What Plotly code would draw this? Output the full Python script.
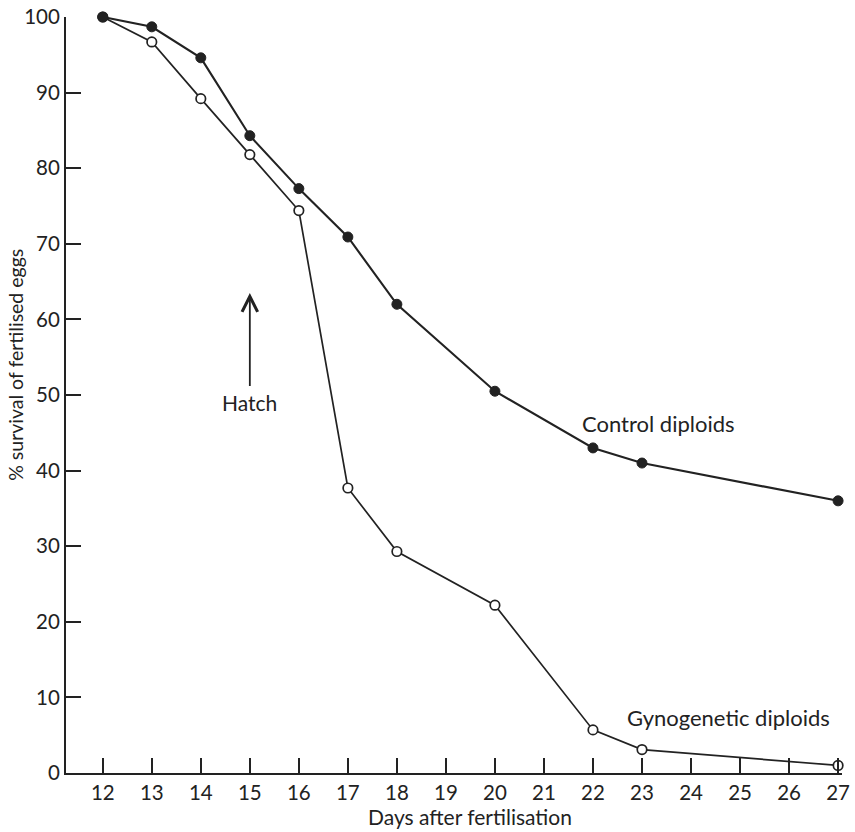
import plotly.graph_objects as go

days_control = [12, 13, 14, 15, 16, 17, 18, 20, 22, 23, 27]
control = [100, 98.7, 94.6, 84.3, 77.3, 70.9, 62.0, 50.5, 43.0, 41.0, 36.0]
days_gyno = [12, 13, 14, 15, 16, 17, 18, 20, 22, 23, 27]
gyno = [100, 96.7, 89.2, 81.8, 74.4, 37.7, 29.3, 22.2, 5.7, 3.1, 1.0]
x_ticks = list(range(12, 28))
y_ticks = list(range(0, 101, 10))

FONT = "Lato"
INK = "#222222"

fig = go.Figure()
fig.add_trace(go.Scatter(
    x=days_gyno, y=gyno, mode="lines+markers", cliponaxis=False,
    line=dict(color=INK, width=1.7),
    marker=dict(symbol="circle", size=9.5, color="white", line=dict(color=INK, width=1.7)),
    showlegend=False))
fig.add_trace(go.Scatter(
    x=days_control, y=control, mode="lines+markers", cliponaxis=False,
    line=dict(color=INK, width=2.1),
    marker=dict(symbol="circle", size=10, color=INK, line=dict(color=INK, width=1)),
    showlegend=False))

fig.add_annotation(x=15, y=63.5, ax=15, ay=51.0, axref="x", ayref="y", xref="x", yref="y",
                   text="", showarrow=True, arrowhead=5, arrowsize=1.7, arrowwidth=1.8,
                   arrowcolor=INK)
fig.add_annotation(x=15, y=49.0, xref="x", yref="y", text="Hatch", showarrow=False,
                   font=dict(family=FONT, size=21, color=INK))
fig.add_annotation(x=21.74, y=46.2, xref="x", yref="y", text="Control diploids", showarrow=False,
                   xanchor="left", font=dict(family=FONT, size=22, color=INK))
fig.add_annotation(x=22.65, y=7.3, xref="x", yref="y", text="Gynogenetic diploids", showarrow=False,
                   xanchor="left", font=dict(family=FONT, size=22, color=INK))
# axis titles
fig.add_annotation(x=-0.0644, y=0.54, xref="paper", yref="paper", text="% survival of fertilised eggs",
                   showarrow=False, textangle=-90, xanchor="center", yanchor="middle",
                   font=dict(family=FONT, size=19.5, color=INK))
fig.add_annotation(x=0.52, y=-0.058, xref="paper", yref="paper", text="Days after fertilisation",
                   showarrow=False, xanchor="center", yanchor="middle",
                   font=dict(family=FONT, size=21, color=INK))

fig.update_xaxes(
    range=[11.25, 27.08], tickvals=x_ticks, ticks="inside", ticklen=15, tickwidth=1.5,
    tickcolor=INK, showline=True, linecolor=INK, linewidth=2, showgrid=False, zeroline=False,
    automargin=False, tickfont=dict(family=FONT, size=20.5, color=INK))
fig.update_yaxes(
    range=[0, 100], tickvals=y_ticks, ticks="inside", ticklen=15, tickwidth=1.5,
    tickcolor=INK, showline=True, linecolor=INK, linewidth=2, showgrid=False, zeroline=False,
    automargin=False, tickfont=dict(family=FONT, size=20.5, color=INK))

fig.update_layout(
    width=855, height=832, plot_bgcolor="white", paper_bgcolor="white",
    margin=dict(l=66, r=13, t=17, b=59))

fig.write_html("out.html")
